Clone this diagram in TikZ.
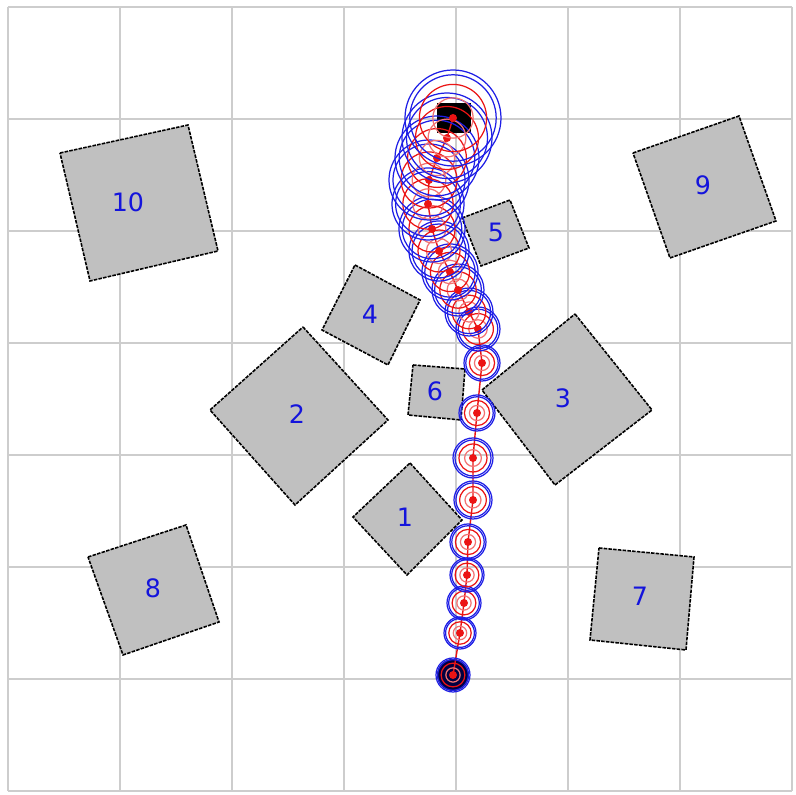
\documentclass[tikz,border=0pt]{standalone}
\usepackage{fontspec}
\newfontfamily\lblfont{DejaVu Sans}
\definecolor{gridc}{RGB}{205,205,205}
\definecolor{boxc}{RGB}{192,192,192}
\definecolor{lblc}{RGB}{20,20,220}
\definecolor{ringb}{RGB}{30,30,230}
\definecolor{ringr}{RGB}{235,20,20}
\tikzset{
  gridline/.style={draw=gridc, line width=0.35pt},
  obstacle/.style={fill=boxc, draw=black, line width=0.45pt, dash pattern=on 1pt off 0.35pt},
  lbl/.style={text=lblc, font=\lblfont\fontsize{7.2}{8}\selectfont, inner sep=0pt},
  blring/.style={draw=ringb, line width=0.35pt},
  rdring/.style={draw=ringr, line width=0.35pt},
  rdinner/.style={draw=ringr!60, line width=0.35pt},
  pathline/.style={draw=ringr, line width=0.4pt}
}
\begin{document}
\begin{tikzpicture}[x=0.01cm, y=-0.01cm]
\useasboundingbox (0,0) rectangle (796,795);
\fill[white] (0,0) rectangle (796,795);
% grid
\foreach \k in {0,...,7} {
  \draw[gridline] ({8+112*\k},7) -- ({8+112*\k},791);
  \draw[gridline] (8,{7+112*\k}) -- (792,{7+112*\k});
}
% obstacles
\draw[obstacle] (410,463) -- (462,520) -- (407,575) -- (353,517) -- cycle;
\draw[obstacle] (303,327) -- (388,420) -- (295,505) -- (210,410) -- cycle;
\draw[obstacle] (575,314) -- (652,410) -- (555,485) -- (482,390) -- cycle;
\draw[obstacle] (355,265) -- (420,300) -- (388,365) -- (322,330) -- cycle;
\draw[obstacle] (462,218) -- (510,200) -- (529,248) -- (481,266) -- cycle;
\draw[obstacle] (413,365) -- (465,369) -- (461,420) -- (408,415) -- cycle;
\draw[obstacle] (599,548) -- (694,557) -- (686,650) -- (590,640) -- cycle;
\draw[obstacle] (88,557) -- (186,525) -- (219,622) -- (123,655) -- cycle;
\draw[obstacle] (633,153) -- (739,116) -- (776,221) -- (670,258) -- cycle;
\draw[obstacle] (60,153) -- (188,125) -- (218,251) -- (90,281) -- cycle;
\node[lbl] (l1) at (405,517) {1};
\node[lbl] (l2) at (297,414) {2};
\node[lbl] (l3) at (563,398) {3};
\node[lbl] (l4) at (370,314) {4};
\node[lbl] (l5) at (496,232) {5};
\node[lbl] (l6) at (435,391) {6};
\node[lbl] (l7) at (640,596) {7};
\node[lbl] (l8) at (153,588) {8};
\node[lbl] (l9) at (703,185) {9};
\node[lbl] (l10) at (128,202) {10};
% goal
\fill[black] (437,103) rectangle (471,133);
% start
\fill[black!75!blue] (453,675) circle (16);
% path
\draw[pathline] (453,675) -- (460,633) -- (464,603) -- (467,575) -- (468,542) -- (473,500) -- (473,458) -- (477,413) -- (482,363) -- (478,329) -- (469,312) -- (458,290) -- (450,272) -- (439,251) -- (432,229) -- (428,204) -- (429,180) -- (437,158) -- (447,138) -- (453,118);
% uncertainty circles
\foreach \px/\py/\r in {453/675/17, 460/633/16, 464/603/17, 467/575/17, 468/542/18, 473/500/19, 473/458/20, 477/413/18, 482/363/18, 478/329/22, 469/312/24, 458/290/26, 450/272/28, 439/251/30, 432/229/33, 428/204/36, 429/180/40, 437/158/42, 447/138/45, 453/118/48} {
  \draw[blring] (\px,\py) circle (\r);
  \draw[blring] (\px,\py) circle ({0.9*\r});
  \draw[rdring] (\px,\py) circle ({0.7*\r});
  \draw[rdinner] (\px,\py) circle ({0.42*\r});
  \fill[ringr] (\px,\py) circle (4);
}
\end{tikzpicture}
\end{document}
